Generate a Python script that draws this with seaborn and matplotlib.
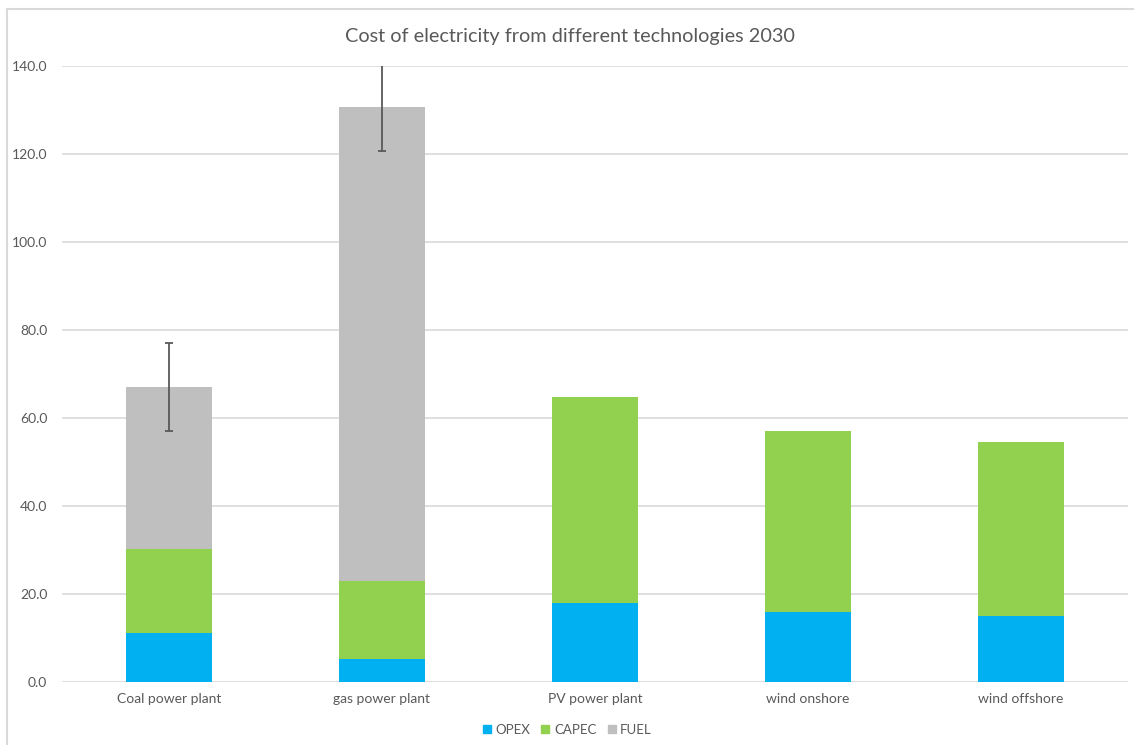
import pandas as pd
import numpy as np
import matplotlib
matplotlib.use("Agg")
import matplotlib.pyplot as plt
import seaborn as sns
from matplotlib.lines import Line2D

# data
technologies = ['Coal power plant', 'gas power plant', 'PV power plant', 'wind onshore', 'wind offshore']
opex = [11.2, 5.2, 18.0, 16.0, 15.1]
capec = [19.1, 17.8, 46.8, 41.1, 39.4]
fuel = [36.8, 107.7, 0.0, 0.0, 0.0]
fuel_error = [10.0, 10.0, 0.0, 0.0, 0.0]

colors = {'OPEX': '#00B0F0', 'CAPEC': '#92D050', 'FUEL': '#BFBFBF'}
text_color = '#595959'

df = pd.DataFrame({'tech': technologies, 'OPEX': opex, 'CAPEC': capec, 'FUEL': fuel})
df['lvl1'] = df['OPEX']
df['lvl2'] = df['OPEX'] + df['CAPEC']
df['lvl3'] = df['lvl2'] + df['FUEL']

sns.set_theme(style='white')
plt.rcParams['font.family'] = ['Lato', 'DejaVu Sans']

fig = plt.figure(figsize=(11.34, 7.45), dpi=100)
ax = fig.add_axes([0.0551, 0.0846, 0.9392, 0.8268])

# stacked bars: draw cumulative totals, tallest first
for col, name in [('lvl3', 'FUEL'), ('lvl2', 'CAPEC'), ('lvl1', 'OPEX')]:
    sns.barplot(data=df, x='tech', y=col, color=colors[name], width=0.4,
                saturation=1, ax=ax, zorder=2, linewidth=0)

# error bars on the fuel segment
x_err = [i for i, e in enumerate(fuel_error) if e > 0]
y_err = [df['lvl3'][i] for i in x_err]
e_err = [fuel_error[i] for i in x_err]
ax.errorbar(x_err, y_err, yerr=e_err, fmt='none', ecolor='#595959',
            elinewidth=1.3, capsize=3, capthick=1.3, zorder=3)

ax.set_ylim(0, 140)
ax.set_xlim(-0.5, 4.5)
ax.set_yticks(np.arange(0, 141, 20))
ax.set_yticklabels([f'{v:.1f}' for v in np.arange(0, 141, 20)])
ax.yaxis.grid(True, color='#D9D9D9', linewidth=1.2, zorder=0)
ax.set_axisbelow(True)
for s in ax.spines.values():
    s.set_visible(False)
ax.tick_params(axis='y', length=0, pad=11, labelsize=10, labelcolor=text_color)
ax.tick_params(axis='x', length=0, pad=8, labelsize=10, labelcolor=text_color)
ax.set_xlabel('')
ax.set_ylabel('')

fig.text(0.503, 0.951, 'Cost of electricity from different technologies 2030',
         ha='center', va='center', fontsize=14.3, color=text_color)

handles = [Line2D([0], [0], marker='s', linestyle='none', markersize=6,
                  markerfacecolor=colors[n], markeredgecolor=colors[n], label=n)
           for n in ['OPEX', 'CAPEC', 'FUEL']]
fig.legend(handles=handles, loc='center', bbox_to_anchor=(0.5, 0.02), ncol=3,
           frameon=False, fontsize=9.5, labelcolor=text_color,
           handlelength=0.7, handletextpad=0.3, columnspacing=0.8)

# chart frame (left and top edges visible)
fig.add_artist(Line2D([7 / 1134, 7 / 1134], [0, 1 - 9 / 745], transform=fig.transFigure,
                      color='#D9D9D9', linewidth=1.5))
fig.add_artist(Line2D([7 / 1134, 1], [1 - 9 / 745, 1 - 9 / 745], transform=fig.transFigure,
                      color='#D9D9D9', linewidth=1.5))

fig.savefig('out.png', dpi=100)
